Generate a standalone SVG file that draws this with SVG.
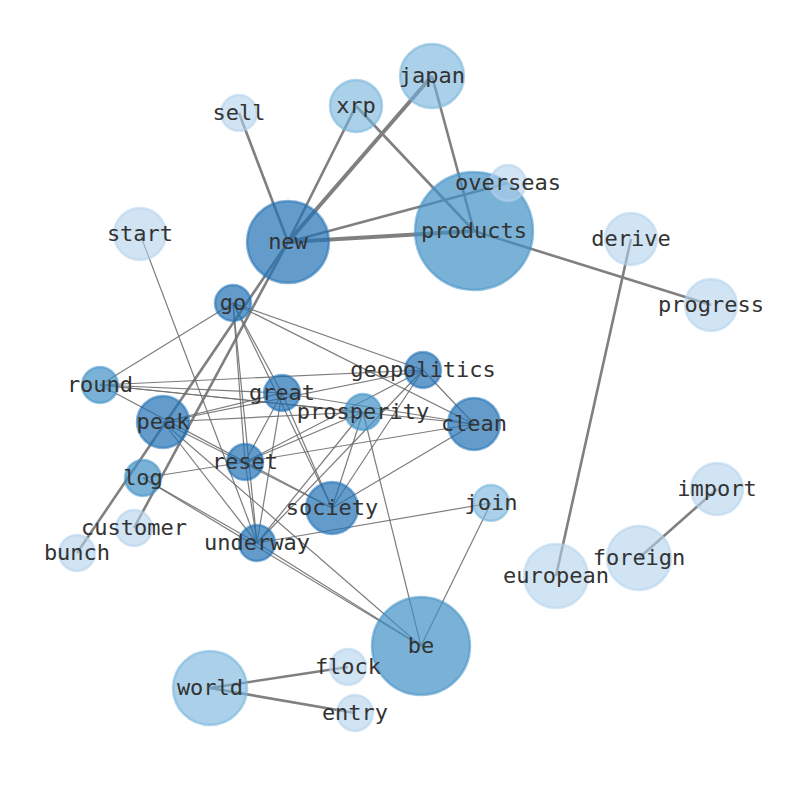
<svg xmlns="http://www.w3.org/2000/svg" width="794" height="790" viewBox="0 0 794 790">
<style>
.e1{stroke:#6e6e6e;stroke-width:1.2;stroke-opacity:0.9}
.e2{stroke:#808080;stroke-width:2.6}
.e3{stroke:#808080;stroke-width:4}
.n circle{stroke-width:2.5}
.t1 circle{fill:#2171b5;fill-opacity:0.7;stroke:#2171b5;stroke-opacity:0.55}
.t2 circle{fill:#4292c6;fill-opacity:0.7;stroke:#4292c6;stroke-opacity:0.55}
.t3 circle{fill:#72b2da;fill-opacity:0.6;stroke:#72b2da;stroke-opacity:0.55}
.t4 circle{fill:#b3d2ec;fill-opacity:0.6;stroke:#b3d2ec;stroke-opacity:0.55}
text{font-family:"DejaVu Sans Mono","Liberation Mono",monospace;font-size:22px;fill:#333;text-anchor:middle}
</style>
<rect width="794" height="790" fill="#fff"/>
<g id="edges" fill="none">
<line class="e3" x1="288" y1="242" x2="432" y2="76"/>
<line class="e3" x1="288" y1="242" x2="474" y2="231"/>
<line class="e2" x1="288" y1="242" x2="239" y2="113"/>
<line class="e2" x1="288" y1="242" x2="356" y2="106"/>
<line class="e2" x1="288" y1="242" x2="508" y2="183"/>
<line class="e2" x1="356" y1="106" x2="474" y2="231"/>
<line class="e2" x1="432" y1="76" x2="474" y2="231"/>
<line class="e2" x1="474" y1="231" x2="711" y2="305"/>
<line class="e2" x1="631" y1="239" x2="556" y2="576"/>
<line class="e2" x1="717" y1="489" x2="639" y2="558"/>
<line class="e2" x1="210" y1="688" x2="348" y2="667"/>
<line class="e2" x1="210" y1="688" x2="355" y2="713"/>
<line class="e2" x1="288" y1="242" x2="77" y2="553"/>
<line class="e2" x1="288" y1="242" x2="134" y2="528"/>
<line class="e1" x1="233" y1="303" x2="100" y2="385"/>
<line class="e1" x1="233" y1="303" x2="423" y2="370"/>
<line class="e1" x1="233" y1="303" x2="474" y2="424"/>
<line class="e1" x1="233" y1="303" x2="245" y2="462"/>
<line class="e1" x1="233" y1="303" x2="257" y2="543"/>
<line class="e1" x1="233" y1="303" x2="332" y2="508"/>
<line class="e1" x1="233" y1="303" x2="282" y2="393"/>
<line class="e1" x1="100" y1="385" x2="423" y2="370"/>
<line class="e1" x1="100" y1="385" x2="282" y2="393"/>
<line class="e1" x1="100" y1="385" x2="363" y2="412"/>
<line class="e1" x1="100" y1="385" x2="474" y2="424"/>
<line class="e1" x1="100" y1="385" x2="332" y2="508"/>
<line class="e1" x1="163" y1="422" x2="282" y2="393"/>
<line class="e1" x1="163" y1="422" x2="363" y2="412"/>
<line class="e1" x1="163" y1="422" x2="423" y2="370"/>
<line class="e1" x1="163" y1="422" x2="332" y2="508"/>
<line class="e1" x1="163" y1="422" x2="257" y2="543"/>
<line class="e1" x1="163" y1="422" x2="421" y2="646"/>
<line class="e1" x1="282" y1="393" x2="245" y2="462"/>
<line class="e1" x1="282" y1="393" x2="257" y2="543"/>
<line class="e1" x1="282" y1="393" x2="332" y2="508"/>
<line class="e1" x1="282" y1="393" x2="474" y2="424"/>
<line class="e1" x1="245" y1="462" x2="363" y2="412"/>
<line class="e1" x1="245" y1="462" x2="423" y2="370"/>
<line class="e1" x1="245" y1="462" x2="474" y2="424"/>
<line class="e1" x1="245" y1="462" x2="257" y2="543"/>
<line class="e1" x1="245" y1="462" x2="143" y2="478"/>
<line class="e1" x1="143" y1="478" x2="257" y2="543"/>
<line class="e1" x1="143" y1="478" x2="421" y2="646"/>
<line class="e1" x1="257" y1="543" x2="363" y2="412"/>
<line class="e1" x1="257" y1="543" x2="423" y2="370"/>
<line class="e1" x1="257" y1="543" x2="491" y2="503"/>
<line class="e1" x1="257" y1="543" x2="421" y2="646"/>
<line class="e1" x1="257" y1="543" x2="140" y2="234"/>
<line class="e1" x1="332" y1="508" x2="363" y2="412"/>
<line class="e1" x1="332" y1="508" x2="423" y2="370"/>
<line class="e1" x1="332" y1="508" x2="474" y2="424"/>
<line class="e1" x1="423" y1="370" x2="474" y2="424"/>
<line class="e1" x1="363" y1="412" x2="421" y2="646"/>
<line class="e1" x1="491" y1="503" x2="421" y2="646"/>
</g>
<g id="node-products" class="n t2"><circle cx="474" cy="231" r="59"/></g>
<g id="node-be" class="n t2"><circle cx="421" cy="646" r="49"/></g>
<g id="node-new" class="n t1"><circle cx="288" cy="242" r="41"/></g>
<g id="node-world" class="n t3"><circle cx="210" cy="688" r="37"/></g>
<g id="node-japan" class="n t3"><circle cx="432" cy="76" r="32"/></g>
<g id="node-european" class="n t4"><circle cx="556" cy="576" r="32"/></g>
<g id="node-foreign" class="n t4"><circle cx="639" cy="558" r="32"/></g>
<g id="node-xrp" class="n t3"><circle cx="356" cy="106" r="26"/></g>
<g id="node-start" class="n t4"><circle cx="140" cy="234" r="26"/></g>
<g id="node-derive" class="n t4"><circle cx="631" cy="239" r="26"/></g>
<g id="node-progress" class="n t4"><circle cx="711" cy="305" r="26"/></g>
<g id="node-import" class="n t4"><circle cx="717" cy="489" r="26"/></g>
<g id="node-clean" class="n t1"><circle cx="474" cy="424" r="26"/></g>
<g id="node-peak" class="n t1"><circle cx="163" cy="422" r="26"/></g>
<g id="node-society" class="n t1"><circle cx="332" cy="508" r="26"/></g>
<g id="node-sell" class="n t4"><circle cx="239" cy="113" r="18"/></g>
<g id="node-overseas" class="n t4"><circle cx="508" cy="183" r="18"/></g>
<g id="node-go" class="n t1"><circle cx="233" cy="303" r="18"/></g>
<g id="node-round" class="n t2"><circle cx="100" cy="385" r="18"/></g>
<g id="node-geopolitics" class="n t1"><circle cx="423" cy="370" r="18"/></g>
<g id="node-great" class="n t1"><circle cx="282" cy="393" r="18"/></g>
<g id="node-prosperity" class="n t2"><circle cx="363" cy="412" r="18"/></g>
<g id="node-reset" class="n t1"><circle cx="245" cy="462" r="18"/></g>
<g id="node-log" class="n t2"><circle cx="143" cy="478" r="18"/></g>
<g id="node-join" class="n t3"><circle cx="491" cy="503" r="18"/></g>
<g id="node-customer" class="n t4"><circle cx="134" cy="528" r="18"/></g>
<g id="node-bunch" class="n t4"><circle cx="77" cy="553" r="18"/></g>
<g id="node-underway" class="n t1"><circle cx="257" cy="543" r="18"/></g>
<g id="node-flock" class="n t4"><circle cx="348" cy="667" r="18"/></g>
<g id="node-entry" class="n t4"><circle cx="355" cy="713" r="18"/></g>
<g id="labels">
<text x="474" y="238">products</text>
<text x="421" y="653">be</text>
<text x="288" y="249">new</text>
<text x="210" y="695">world</text>
<text x="432" y="83">japan</text>
<text x="556" y="583">european</text>
<text x="639" y="565">foreign</text>
<text x="356" y="113">xrp</text>
<text x="140" y="241">start</text>
<text x="631" y="246">derive</text>
<text x="711" y="312">progress</text>
<text x="717" y="496">import</text>
<text x="474" y="431">clean</text>
<text x="163" y="429">peak</text>
<text x="332" y="515">society</text>
<text x="239" y="120">sell</text>
<text x="508" y="190">overseas</text>
<text x="233" y="310">go</text>
<text x="100" y="392">round</text>
<text x="423" y="377">geopolitics</text>
<text x="282" y="400">great</text>
<text x="363" y="419">prosperity</text>
<text x="245" y="469">reset</text>
<text x="143" y="485">log</text>
<text x="491" y="510">join</text>
<text x="134" y="535">customer</text>
<text x="77" y="560">bunch</text>
<text x="257" y="550">underway</text>
<text x="348" y="674">flock</text>
<text x="355" y="720">entry</text>
</g>
</svg>
